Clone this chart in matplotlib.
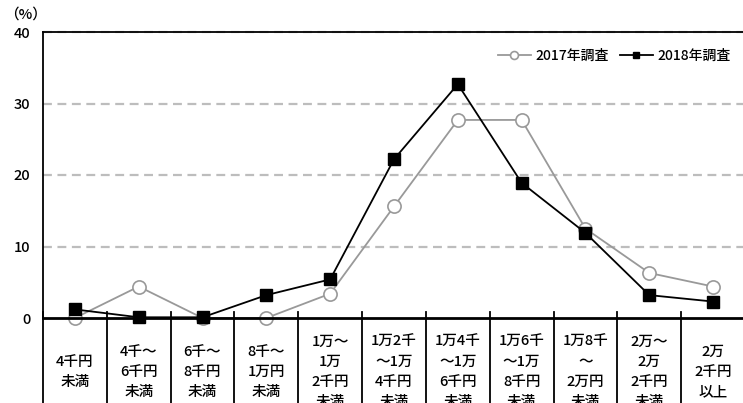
import matplotlib
matplotlib.use("Agg")
import matplotlib.pyplot as plt

plt.rcParams['font.family'] = ['Noto Sans CJK JP', 'DejaVu Sans']
plt.rcParams['font.weight'] = 'medium'

categories = [
    "4千円\n未満",
    "4千～\n6千円\n未満",
    "6千～\n8千円\n未満",
    "8千～\n1万円\n未満",
    "1万～\n1万\n2千円\n未満",
    "1万2千\n～1万\n4千円\n未満",
    "1万4千\n～1万\n6千円\n未満",
    "1万6千\n～1万\n8千円\n未満",
    "1万8千\n～\n2万円\n未満",
    "2万～\n2万\n2千円\n未満",
    "2万\n2千円\n以上",
]
values_2017 = [0.0, 4.4, 0.0, 0.0, 3.4, 15.6, 27.7, 27.7, 12.5, 6.3, 4.4]
values_2018 = [1.2, 0.1, 0.1, 3.2, 5.4, 22.2, 32.7, 18.9, 11.9, 3.2, 2.3]
series_labels = ["2017年調査", "2018年調査"]
yticks = [0, 10, 20, 30, 40]

W, H = 743, 403
fig = plt.figure(figsize=(W / 100, H / 100), dpi=100)
left, right, top, zero = 43, 745, 32, 318
ax = fig.add_axes([left / W, 1 - zero / H, (right - left) / W, (zero - top) / H])

n = len(categories)
xs = [i + 0.5 for i in range(n)]
ax.set_xlim(0, n)
ax.set_ylim(0, 40)

for y in yticks[1:]:
    ax.axhline(y, color='#bdbdbd', lw=1.6, ls=(0, (4, 2.5)), zorder=1, clip_on=False)

ax.plot(xs, values_2017, color='#999999', lw=1.3, marker='o', ms=9.5,
        mfc='white', mec='#999999', mew=1.2, zorder=3, clip_on=False, label=series_labels[0])
ax.plot(xs, values_2018, color='black', lw=1.3, marker='s', ms=8,
        mfc='black', mec='black', zorder=4, clip_on=False, label=series_labels[1])

ax.spines['right'].set_visible(False)
ax.spines['top'].set_linewidth(1.3)
ax.spines['left'].set_linewidth(1.3)
ax.spines['bottom'].set_visible(False)
ax.axhline(0, color='black', lw=2.0, zorder=5, clip_on=False)

ax.set_xticks([])
ax.set_yticks(yticks)
ax.set_yticklabels([str(v) for v in yticks], fontsize=10.5)
ax.tick_params(axis='y', length=0, pad=9)

px = 40 / (zero - top)  # data units per pixel (y)
for b in range(0, n + 1):
    ax.plot([b, b], [6 * px, -100 * px], color='black', lw=1.3,
            clip_on=False, zorder=5)

for x, lab in zip(xs, categories):
    lines = lab.split("\n")
    k = len(lines)
    for j, ln in enumerate(lines):
        ypx = 372 + (j - (k - 1) / 2) * 20
        ax.text(x, -(ypx - zero) * px, ln, ha='center', va='center',
                fontsize=10.5, clip_on=False)

fig.text(4 / W, 1 - 15 / H, "（%）", fontsize=10.5, ha='left', va='center')

ax.legend(loc='upper right', bbox_to_anchor=(1.0 - 2 / (right - left), 0.985), frameon=False,
          ncol=2, fontsize=10, handlelength=2.4, columnspacing=0.8, handletextpad=0.3,
          markerscale=0.6)

fig.savefig("out.png", dpi=100)
